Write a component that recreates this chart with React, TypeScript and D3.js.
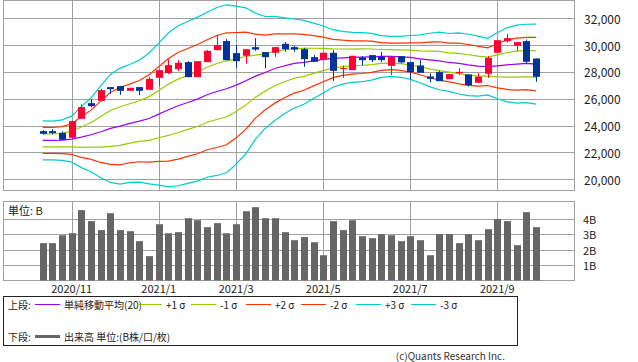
import React, { useEffect, useRef } from "react";
import * as d3 from "d3";

// weekly candles, Oct 2020 - Oct 2021
const weeks = [
  "2020-10-12", "2020-10-19", "2020-10-26", "2020-11-02", "2020-11-09", "2020-11-16",
  "2020-11-23", "2020-11-30", "2020-12-07", "2020-12-14", "2020-12-21", "2020-12-28",
  "2021-01-04", "2021-01-11", "2021-01-18", "2021-01-25", "2021-02-01", "2021-02-08",
  "2021-02-15", "2021-02-22", "2021-03-01", "2021-03-08", "2021-03-15", "2021-03-22",
  "2021-03-29", "2021-04-05", "2021-04-12", "2021-04-19", "2021-04-26", "2021-05-03",
  "2021-05-10", "2021-05-17", "2021-05-24", "2021-05-31", "2021-06-07", "2021-06-14",
  "2021-06-21", "2021-06-28", "2021-07-05", "2021-07-12", "2021-07-19", "2021-07-26",
  "2021-08-02", "2021-08-09", "2021-08-16", "2021-08-23", "2021-08-30", "2021-09-06",
  "2021-09-13", "2021-09-20", "2021-09-27", "2021-10-04",
];

const open = [
  23590, 23590, 23465, 23095, 24510, 25675, 25850, 26870, 26945, 26595, 26870, 26670,
  27565, 27915, 28210, 28735, 27615, 28735, 29625, 30300, 29405, 29205, 29850, 29480,
  29430, 30100, 29850, 29700, 29105, 28930, 29430, 28260, 28135, 29080, 29255, 29130,
  28460, 29180, 28735, 28485, 27665, 27990, 27465, 27915, 27815, 27195, 27865, 29430,
  30300, 29950, 30300, 29005,
];
const high = [
  23665, 23740, 23565, 24360, 25580, 25975, 26745, 26870, 26945, 26820, 26870, 27615,
  28185, 28930, 28880, 28805, 28805, 29650, 30745, 30445, 30000, 29700, 30520, 29480,
  29850, 30225, 29950, 29800, 29255, 29430, 29625, 28485, 29205, 29180, 29255, 29505,
  29130, 29180, 28735, 28880, 27890, 28085, 27840, 28285, 27815, 27915, 29180, 30372,
  30820, 30225, 30420, 29005,
];
const low = [
  23345, 23345, 22945, 23095, 24510, 25355, 25850, 26375, 26300, 26595, 26275, 26670,
  26945, 27840, 28060, 27615, 27615, 28735, 29625, 28880, 28310, 28610, 29575, 28285,
  29130, 29505, 29505, 28385, 28760, 28930, 27340, 27565, 28135, 28510, 28735, 28735,
  27765, 28635, 27440, 27940, 27240, 27315, 27465, 27790, 26920, 27195, 27565, 29430,
  30175, 29575, 28635, 27265,
];
const close = [
  23390, 23440, 22945, 24335, 25380, 25455, 26645, 26720, 26595, 26820, 26595, 27490,
  28135, 28510, 28685, 27615, 28805, 29575, 30000, 28880, 28805, 29700, 29675, 29105,
  29850, 29700, 29675, 28955, 28760, 29430, 28085, 28300, 29205, 28880, 28880, 28880,
  29130, 28710, 27990, 27940, 27490, 27315, 27840, 28010, 27020, 27640, 29055, 30370,
  30520, 30225, 28760, 27640,
];

// 20-week simple moving average and its standard deviation
const sma20 = [
  22896, 22896, 22921, 22995, 23144, 23318, 23542, 23790, 23964, 24163, 24337, 24535,
  24858, 25181, 25479, 25728, 25976, 26299, 26547, 26746, 27019, 27342, 27690, 27963,
  28261, 28460, 28634, 28720, 28833, 28932, 29006, 29056, 29081, 29106, 29131, 29155,
  29163, 29131, 29081, 28982, 28895, 28820, 28708, 28634, 28522, 28435, 28398, 28460,
  28534, 28584, 28634, 28584,
];
const sigma = [
  484, 482, 504, 571, 758, 919, 1143, 1341, 1441, 1466, 1515, 1627,
  1764, 1913, 1987, 2012, 2037, 2049, 2087, 2087, 1962, 1813, 1565, 1391,
  1292, 1192, 1105, 1043, 936, 832, 715, 656, 621, 611, 581, 519,
  497, 509, 546, 596, 663, 715, 720, 758, 763, 745, 703, 820,
  919, 969, 974, 994,
];

// volume in billions of shares
const volume = [
  2.41, 2.41, 2.92, 3.05, 4.54, 3.83, 3.25, 4.34, 3.25, 3.18, 2.54, 1.57,
  3.63, 3.05, 3.12, 4.02, 3.89, 3.44, 3.7, 3.05, 3.63, 4.47, 4.73, 4.02,
  4.02, 3.12, 2.6, 2.8, 2.47, 1.63, 3.83, 3.25, 3.89, 2.86, 2.73, 2.99,
  2.92, 2.54, 2.86, 2.6, 1.63, 2.99, 2.99, 2.41, 2.99, 2.6, 3.31, 3.96,
  3.83, 2.28, 4.41, 3.44,
];

const monthTicks = ["2020-11-02", "2021-01-04", "2021-03-01", "2021-05-03", "2021-07-05", "2021-09-06"];
const monthLabels = ["2020/11", "2021/1", "2021/3", "2021/5", "2021/7", "2021/9"];
const priceTicks = [20000, 22000, 24000, 26000, 28000, 30000, 32000];
const volumeTicks = [1, 2, 3, 4];

const bandNames = ["+1 σ", "-1 σ", "+2 σ", "-2 σ", "+3 σ", "-3 σ"];
const bandFactors = [1, -1, 2, -2, 3, -3];
const bandColors = ["#99cc00", "#99cc00", "#ff3300", "#ff3300", "#00cccc", "#00cccc"];

const FONT = "'Noto Sans CJK JP', 'Noto Sans', sans-serif";

const App: React.FC = () => {
  const svgRef = useRef<SVGSVGElement>(null);

  useEffect(() => {
    if (!svgRef.current) return;
    const svg = d3.select(svgRef.current);
    svg.selectAll("*").remove();

    const left = 3.5;
    const right = 574.5;
    const main = { top: 0.5, bottom: 190.5 };
    const vol = { top: 201.5, bottom: 280.5 };

    const x = d3.scalePoint<string>().domain(weeks).range([42.7, 536.0]);
    const y = d3.scaleLinear().domain([20000, 32000]).range([179.3, 18.3]);
    const yv = d3.scaleLinear().domain([0, 4]).range([280.5, 218.5]);

    const grid = "#a0a0a0";

    // ---- main panel
    svg.append("rect").attr("x", left).attr("y", main.top)
      .attr("width", right - left).attr("height", main.bottom - main.top)
      .attr("fill", "#fff").attr("stroke", grid);

    svg.append("g").selectAll("line").data(priceTicks).join("line")
      .attr("x1", left).attr("x2", right)
      .attr("y1", (d) => Math.round(y(d)) + 0.5).attr("y2", (d) => Math.round(y(d)) + 0.5)
      .attr("stroke", grid);

    svg.append("g").selectAll("text").data(priceTicks).join("text")
      .attr("x", 584).attr("y", (d) => y(d))
      .attr("dominant-baseline", "central")
      .attr("font-family", FONT).attr("font-size", 12).attr("fill", "#222")
      .text((d) => d3.format(",")(d));

    // month gridlines for both panels
    [main, vol].forEach((p) => {
      svg.append("g").selectAll("line").data(monthTicks).join("line")
        .attr("x1", (d) => Math.round(x(d)!) + 0.5).attr("x2", (d) => Math.round(x(d)!) + 0.5)
        .attr("y1", p.top).attr("y2", p.bottom)
        .attr("stroke", grid);
    });

    // bollinger bands
    const line = d3.line<number>()
      .x((_, i) => x(weeks[i])!)
      .y((d) => y(d));

    bandFactors.forEach((k, j) => {
      svg.append("path")
        .datum(sma20.map((m, i) => m + k * sigma[i]))
        .attr("fill", "none").attr("stroke", bandColors[j]).attr("stroke-width", 1.2)
        .attr("d", line);
    });
    svg.append("path")
      .datum(sma20)
      .attr("fill", "none").attr("stroke", "#9900ff").attr("stroke-width", 1.2)
      .attr("d", line);

    // candles
    const candles = svg.append("g").selectAll("g").data(weeks).join("g");
    candles.append("line")
      .attr("x1", (d) => Math.round(x(d)!) + 0.5).attr("x2", (d) => Math.round(x(d)!) + 0.5)
      .attr("y1", (_, i) => y(high[i])).attr("y2", (_, i) => y(low[i]))
      .attr("stroke", (_, i) => (close[i] >= open[i] ? "#ff0033" : "#003399"));
    candles.append("rect")
      .attr("x", (d) => Math.round(x(d)!) - 3)
      .attr("width", 7)
      .attr("y", (_, i) => y(Math.max(open[i], close[i])))
      .attr("height", (_, i) => Math.max(1, y(Math.min(open[i], close[i])) - y(Math.max(open[i], close[i]))))
      .attr("fill", (_, i) => (close[i] >= open[i] ? "#ff0033" : "#003399"));

    // ---- volume panel
    svg.append("rect").attr("x", left).attr("y", vol.top)
      .attr("width", right - left).attr("height", vol.bottom - vol.top)
      .attr("fill", "none").attr("stroke", grid);

    svg.append("g").selectAll("line").data(volumeTicks).join("line")
      .attr("x1", left).attr("x2", right)
      .attr("y1", (d) => Math.round(yv(d)) + 0.5).attr("y2", (d) => Math.round(yv(d)) + 0.5)
      .attr("stroke", grid);

    svg.append("g").selectAll("rect").data(volume).join("rect")
      .attr("x", (_, i) => Math.round(x(weeks[i])!) - 3)
      .attr("width", 7)
      .attr("y", (d) => yv(d))
      .attr("height", (d) => yv(0) - yv(d))
      .attr("fill", "#666666");

    svg.append("g").selectAll("text").data(volumeTicks).join("text")
      .attr("x", 583).attr("y", (d) => yv(d))
      .attr("dominant-baseline", "central")
      .attr("font-family", FONT).attr("font-size", 11).attr("fill", "#222")
      .text((d) => `${d}B`);

    svg.append("text").attr("x", 8).attr("y", 210)
      .attr("dominant-baseline", "central")
      .attr("font-family", FONT).attr("font-size", 11).attr("fill", "#222")
      .text("単位: B");

    svg.append("g").selectAll("text").data(monthTicks).join("text")
      .attr("x", (d) => x(d)!).attr("y", 288)
      .attr("text-anchor", "middle").attr("dominant-baseline", "central")
      .attr("font-family", FONT).attr("font-size", 11).attr("fill", "#222")
      .text((_, i) => monthLabels[i]);

    // ---- legend
    svg.append("rect").attr("x", 3.5).attr("y", 296.5).attr("width", 514).attr("height", 49)
      .attr("fill", "none").attr("stroke", "#222");

    const lg = svg.append("g").attr("font-family", FONT).attr("font-size", 10).attr("fill", "#222");
    lg.append("text").attr("x", 8).attr("y", 304).attr("dominant-baseline", "central").text("上段:");
    lg.append("text").attr("x", 8).attr("y", 336).attr("dominant-baseline", "central").text("下段:");

    const items = [
      { name: "単純移動平均(20)", color: "#9900ff", lx: 35 },
      ...bandNames.map((n, i) => ({ name: n, color: bandColors[i], lx: [137, 191, 246, 301, 356, 411][i] })),
    ];
    items.forEach((it) => {
      lg.append("line").attr("x1", it.lx).attr("x2", it.lx + 25)
        .attr("y1", 304.5).attr("y2", 304.5).attr("stroke", it.color);
      lg.append("text").attr("x", it.lx + 29).attr("y", 304)
        .attr("dominant-baseline", "central").text(it.name);
    });
    lg.append("line").attr("x1", 35).attr("x2", 60).attr("y1", 336.5).attr("y2", 336.5)
      .attr("stroke", "#666666").attr("stroke-width", 3);
    lg.append("text").attr("x", 64).attr("y", 336)
      .attr("dominant-baseline", "central").text("出来高 単位:(B株/口/枚)");

    svg.append("text").attr("x", 505).attr("y", 355)
      .attr("text-anchor", "end").attr("dominant-baseline", "central")
      .attr("font-family", FONT).attr("font-size", 10).attr("fill", "#333")
      .text("(c)Quants Research Inc.");
  }, []);

  return (
    <svg
      ref={svgRef}
      width={638}
      height={362}
      style={{ position: "absolute", left: 0, top: 0, background: "#fff" }}
    />
  );
};

export default App;
